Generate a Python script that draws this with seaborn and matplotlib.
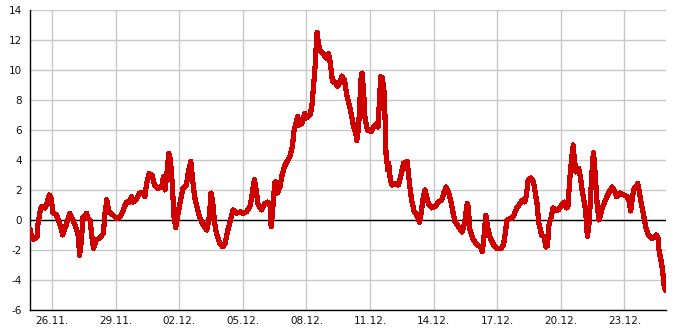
import numpy as np
import pandas as pd
import matplotlib
matplotlib.use("Agg")
import matplotlib.pyplot as plt
import seaborn as sns

start = "2011-11-25 00:00"

hours = [
    -1, 1, 3, 7, 8, 10, 12, 16, 18, 21, 23, 25, 29, 34, 36, 40, 44, 47, 52, 54,
    55, 57, 59, 61, 63, 65, 67, 69, 71, 74, 78, 82, 84, 86, 87, 89, 93, 97, 101, 104,
    108, 112, 114, 116, 120, 123, 127, 129, 131, 134, 137, 140, 144, 148, 150, 152, 154, 156, 158, 160,
    162, 164, 166, 169, 172, 176, 178, 181, 184, 186, 188, 191, 195, 199, 202, 204, 206, 208, 210, 214,
    217, 220, 223, 226, 229, 233, 237, 240, 244, 248, 250, 253, 255, 257, 261, 265, 268, 271, 272, 274,
    276, 277, 279, 282, 284, 287, 290, 293, 296, 298, 300, 302, 304, 307, 310, 312, 316, 318, 320, 322,
    323, 324, 325, 327, 329, 332, 334, 337, 339, 341, 342, 345, 347, 350, 352, 355, 358, 361, 365, 368,
    369, 371, 373, 374, 375, 377, 378, 381, 385, 388, 392, 393, 395, 396, 398, 400, 401, 402, 404, 405,
    407, 409, 412, 416, 419, 422, 426, 427, 429, 431, 434, 437, 440, 442, 444, 446, 449, 450, 454, 458,
    461, 465, 468, 470, 473, 476, 478, 480, 484, 488, 491, 494, 495, 497, 501, 505, 509, 511, 513, 515,
    517, 520, 524, 527, 532, 535, 537, 539, 543, 546, 550, 554, 556, 559, 561, 563, 566, 569, 571, 573,
    575, 577, 578, 581, 583, 585, 586, 589, 591, 594, 597, 601, 604, 606, 608, 610, 612, 614, 615, 617,
    620, 622, 624, 626, 628, 630, 632, 634, 636, 637, 639, 641, 643, 644, 646, 649, 652, 656, 658, 661,
    663, 667, 671, 675, 677, 679, 681, 683, 685, 687, 689, 691, 694, 696, 699, 702, 705, 708, 710, 711,
    714, 716, 717, 719,
]

temps = [
    -0.6, -1.2, -1.3, -1.1, -0.3, 0.45, 0.9, 0.8, 1.1, 1.67, 1.4, 0.5, 0.33, -0.5, -1.0, -0.33, 0.45, 0.1, -0.67, -1.2,
    -2.35, -1.5, 0.2, 0.2, 0.45, 0.1, 0.0, -1.1, -1.9, -1.33, -1.2, -0.9, 0.47, 1.35, 0.9, 0.5, 0.33, 0.1, 0.2, 0.55,
    1.2, 1.2, 1.55, 1.2, 1.45, 1.8, 1.8, 1.55, 2.45, 3.1, 3.0, 2.33, 2.1, 2.2, 2.9, 2.0, 3.1, 4.45, 4.0, 2.45,
    0.2, -0.5, 0.2, 1.2, 2.1, 2.33, 3.1, 3.9, 2.2, 1.33, 0.9, 0.2, -0.33, -0.67, 0.2, 1.8, 1.1, -0.2, -0.9, -1.55,
    -1.8, -1.55, -0.67, 0.0, 0.67, 0.45, 0.55, 0.45, 0.55, 0.9, 1.55, 2.67, 2.0, 1.1, 0.67, 1.1, 1.2, 0.9, -0.45, 0.9,
    2.45, 2.55, 1.8, 2.2, 2.9, 3.55, 3.9, 4.2, 4.9, 6.0, 6.45, 6.9, 6.33, 6.45, 7.1, 6.8, 7.0, 7.55, 8.9, 10.45,
    11.55, 12.5, 12.0, 11.33, 11.2, 11.0, 10.8, 11.1, 10.45, 9.45, 9.2, 9.2, 8.9, 9.2, 9.6, 9.33, 8.2, 7.55, 6.33, 5.67,
    5.3, 6.2, 8.45, 9.67, 9.8, 8.2, 6.9, 6.0, 5.9, 6.2, 6.45, 6.2, 8.45, 9.55, 9.45, 8.45, 6.67, 4.45, 3.33, 3.8,
    2.67, 2.33, 2.45, 2.33, 3.0, 3.8, 3.9, 3.33, 2.2, 1.33, 0.55, 0.33, -0.15, 0.55, 1.45, 2.0, 1.33, 1.1, 0.8, 0.9,
    1.2, 1.33, 1.9, 2.2, 1.8, 1.1, 0.45, -0.1, -0.45, -0.8, -0.2, 1.1, 0.9, -0.67, -1.33, -1.67, -1.8, -2.1, -1.1, 0.33,
    -0.45, -1.2, -1.67, -1.9, -1.9, -1.67, -0.9, 0.0, 0.1, 0.2, 0.8, 1.1, 1.33, 1.2, 1.67, 2.67, 2.8, 2.55, 1.8, 1.1,
    -0.2, -0.67, -1.0, -1.1, -1.8, -1.7, -0.45, 0.2, 0.8, 0.67, 0.67, 1.0, 1.2, 0.8, 0.9, 2.67, 4.0, 5.0, 4.2, 3.2,
    3.45, 2.9, 2.0, 1.33, 0.67, -1.1, -0.2, 2.0, 4.0, 4.5, 2.9, 1.1, 0.0, 0.1, 0.67, 1.1, 1.55, 2.0, 2.2, 1.9,
    1.55, 1.8, 1.67, 1.55, 1.33, 0.6, 1.55, 2.1, 2.2, 2.45, 1.8, 1.1, 0.2, -0.45, -1.0, -1.2, -1.2, -1.0, -1.2, -2.0,
    -2.9, -3.8, -4.45, -4.7,
]

tick_dates = ["2011-11-26", "2011-11-29", "2011-12-02", "2011-12-05", "2011-12-08",
              "2011-12-11", "2011-12-14", "2011-12-17", "2011-12-20", "2011-12-23"]
tick_labels = ["26.11.", "29.11.", "02.12.", "05.12.", "08.12.",
               "11.12.", "14.12.", "17.12.", "20.12.", "23.12."]
y_ticks = [-6, -4, -2, 0, 2, 4, 6, 8, 10, 12, 14]
y_minor = [-5, -3, -1, 1, 3, 5, 7, 9, 11, 13]

df = pd.DataFrame({
    "time": pd.Timestamp(start) + pd.to_timedelta(hours, unit="h"),
    "temp": temps,
})

sns.set_style("white")
plt.rcParams["font.family"] = ["DejaVu Sans"]

fig = plt.figure(figsize=(6.85, 3.3), dpi=100)
ax = fig.add_axes([30 / 685, 20 / 330, 636 / 685, 300 / 330])

sns.lineplot(data=df, x="time", y="temp", ax=ax, color="#cf0000",
             linewidth=3.0, zorder=3, antialiased=False)
ax.axhline(0, color="black", lw=1.0, zorder=2)

ax.set_xlim(df["time"].min(), df["time"].max())
ax.set_ylim(-6, 14)
ax.set_yticks(y_ticks)
ax.set_yticklabels([str(v) for v in y_ticks])
ax.set_yticks(y_minor, minor=True)
ax.set_xticks(pd.to_datetime(tick_dates))
ax.set_xticklabels(tick_labels)
ax.set_xlabel("")
ax.set_ylabel("")

ax.set_axisbelow(True)
ax.grid(True, which="major", color="#c8c8c8", lw=1.0)
for s in ["top", "right"]:
    ax.spines[s].set_visible(False)
for s in ["left", "bottom"]:
    ax.spines[s].set_color("black")
    ax.spines[s].set_linewidth(1.0)

ax.tick_params(axis="x", which="major", direction="in", length=5, width=1,
               color="black", labelsize=7.5, pad=4, labelcolor="#111111")
ax.tick_params(axis="y", which="major", direction="in", length=3, width=1,
               color="black", labelsize=7.5, pad=6, labelcolor="#111111")
ax.tick_params(axis="y", which="minor", direction="in", length=3, width=1,
               color="black")

fig.savefig("out.png", dpi=100)
